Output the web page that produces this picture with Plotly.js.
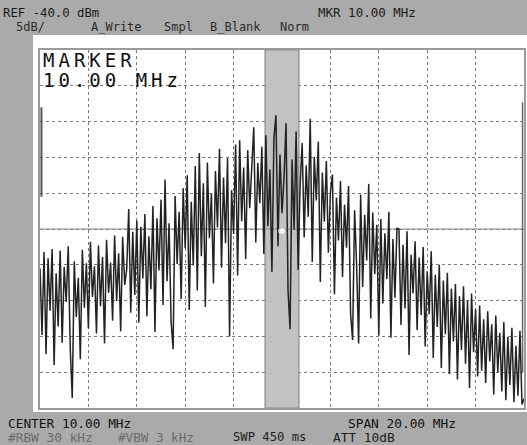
<!DOCTYPE html>
<html>
<head>
<meta charset="utf-8">
<script src="https://cdn.plot.ly/plotly-3.0.1.min.js"></script>
<style>
  html, body { margin: 0; padding: 0; background: #aaaaaa; }
  #chart { width: 527px; height: 445px; }
  .annotation[data-index="0"] text, .annotation[data-index="1"] text { letter-spacing: 4px; }
</style>
</head>
<body>
<div id="chart"></div>
<script>
// Frequency axis: start (MHz) and step between trace points
const freqStart = 0;
const freqStep = 20 / 240;

// Trace amplitude values (dBm), read from the display, left to right
const traceDbm = [
  -70.5, -79.8, -68.2, -82.5, -69.1, -76.4, -67.8, -84.0, -71.2, -78.6,
  -68.0, -80.9, -70.3, -75.2, -67.4, -81.7, -88.6, -69.5, -77.3, -71.8,
  -83.2, -67.9, -76.0, -69.8, -78.9, -66.8, -74.5, -70.2, -79.6, -67.3,
  -75.8, -68.9, -81.0, -66.5, -73.9, -69.7, -77.8, -65.9, -75.1, -68.4,
  -79.3, -66.1, -72.8, -70.6, -62.2, -76.7, -65.4, -74.2, -63.8, -78.1,
  -64.7, -71.9, -62.9, -77.2, -66.0, -73.4, -61.8, -79.4, -63.5, -70.8,
  -60.9, -75.6, -58.1, -72.3, -64.2, -77.9, -81.8, -60.4, -69.9, -62.6,
  -74.8, -59.3, -67.7, -57.5, -76.3, -61.2, -70.1, -56.2, -73.6, -54.4,
  -68.8, -58.6, -75.9, -55.7, -66.3, -60.0, -72.6, -56.9, -64.8, -53.8,
  -70.4, -57.8, -67.0, -55.1, -80.0, -59.6, -65.7, -53.2, -71.5, -52.6,
  -63.9, -56.4, -69.2, -54.0, -62.1, -57.3, -50.8, -66.9, -55.8, -61.4,
  -53.5, -68.5, -51.9, -64.6, -56.7, -71.0, -52.3, -49.1, -67.4, -54.6,
  -62.8, -57.9, -50.2, -73.7, -79.0, -55.3, -65.1, -51.4, -70.7, -58.8,
  -53.0, -66.2, -56.1, -63.3, -49.6, -69.6, -54.9, -61.0, -52.8, -72.4,
  -57.1, -64.0, -55.5, -68.3, -59.9, -57.4, -74.1, -60.6, -66.6, -58.3,
  -71.7, -61.6, -67.6, -59.0, -76.8, -80.5, -62.4, -70.0, -81.0, -60.2,
  -73.1, -63.0, -69.4, -58.7, -77.5, -62.7, -71.3, -64.4, -79.9, -63.6,
  -75.4, -65.6, -72.0, -62.6, -80.2, -66.4, -74.6, -64.9, -65.0, -78.4,
  -67.2, -76.1, -65.3, -82.6, -68.6, -74.0, -66.7, -79.1, -69.0, -77.0,
  -67.5, -81.4, -70.9, -76.9, -68.1, -83.0, -71.4, -78.7, -70.0, -84.4,
  -72.2, -79.7, -71.1, -85.3, -73.3, -80.7, -72.7, -86.0, -74.4, -81.9,
  -73.0, -83.8, -75.0, -87.2, -74.0, -82.2, -76.2, -85.6, -75.7, -84.8,
  -77.6, -86.5, -76.5, -83.5, -78.3, -88.1, -77.1, -85.0, -79.5, -87.7,
  -78.0, -88.9, -80.1, -86.8, -78.8, -89.2, -81.3, -88.3, -79.2, -89.5,
  -88.7
];

// Marker
const markerFreq = [10.0];
const markerDbm = [-65.3];

// Display settings
const refLevel = -40;
const dbPerDiv = 5;
const numDiv = 10;
const centerFreq = 10;
const span = 20;
const bandLow = 9.3;
const bandHigh = 10.7;

// Status texts
const topLine1 = ["REF -40.0 dBm", "MKR 10.00 MHz"];
const topLine2 = ["5dB/", "A_Write", "Smpl", "B_Blank", "Norm"];
const bottomLine1 = ["CENTER 10.00 MHz", "SPAN 20.00 MHz"];
const bottomLine2 = ["#RBW 30 kHz", "#VBW 3 kHz", "SWP 450 ms", "ATT 10dB"];
const markerText = ["MARKER", "10.00 MHz"];

const bottom = refLevel - dbPerDiv * numDiv;

const traces = [
  {
    type: 'scatter', mode: 'lines',
    x0: freqStart, dx: freqStep, y: traceDbm,
    line: { color: '#222222', width: 1.5 },
    hoverinfo: 'skip', showlegend: false
  },
  {
    type: 'scatter', mode: 'markers',
    x: markerFreq, y: markerDbm,
    marker: { color: '#f2f2f2', size: 7, line: { color: '#bbbbbb', width: 1 } },
    hoverinfo: 'skip', showlegend: false
  }
];

const mono = 'DejaVu Sans Mono, monospace';
function ann(text, px, py, size, color, anchor) {
  return {
    xref: 'paper', yref: 'paper',
    x: (px - 40) / 484, y: (408 - py) / 358,
    xanchor: anchor || 'left', yanchor: 'middle',
    text: text, showarrow: false,
    font: { family: mono, size: size, color: color }
  };
}

const annotations = [
  ann(markerText[0], 53, 60, 19, '#111111'),
  ann(markerText[1], 59, 80, 19, '#111111'),
  ann(topLine1[0], 1, 13, 12.3, '#1a1a1a'),
  ann(topLine1[1], 316, 13, 12.5, '#1a1a1a'),
  ann(topLine2[0], 14, 27, 12, '#2a2a2a'),
  ann(topLine2[1], 89, 27, 12, '#2a2a2a'),
  ann(topLine2[2], 162, 27, 12, '#2a2a2a'),
  ann(topLine2[3], 208, 27, 12, '#2a2a2a'),
  ann(topLine2[4], 278, 27, 12, '#2a2a2a'),
  ann(bottomLine1[0], 6, 423, 12.8, '#111111'),
  ann(bottomLine1[1], 346, 423, 12.8, '#111111'),
  ann(bottomLine2[0], 6, 437, 12.8, '#6a6a6a'),
  ann(bottomLine2[1], 116, 437, 12.6, '#6a6a6a'),
  ann(bottomLine2[2], 231, 437, 12.2, '#1e1e1e'),
  ann(bottomLine2[3], 331, 437, 12.8, '#1e1e1e')
];

const shapes = [
  // white display area
  { type: 'rect', xref: 'paper', yref: 'paper', layer: 'below',
    x0: (33 - 40) / 484, x1: (528 - 40) / 484, y0: (408 - 412) / 358, y1: (408 - 35) / 358,
    fillcolor: '#ffffff', line: { width: 0 } },
  // shaded marker band
  { type: 'rect', xref: 'x', yref: 'y', layer: 'between',
    x0: bandLow, x1: bandHigh, y0: bottom, y1: refLevel,
    fillcolor: '#c2c2c2', line: { color: '#8a8a8a', width: 1.2 } },
  // centre display line
  { type: 'line', xref: 'x', yref: 'y', layer: 'between',
    x0: 0, x1: span, y0: refLevel - dbPerDiv * numDiv / 2, y1: refLevel - dbPerDiv * numDiv / 2,
    line: { color: '#8a8a8a', width: 1.2 } },
  // edge marks
  { type: 'line', xref: 'paper', yref: 'y', layer: 'above',
    x0: 0.003, x1: 0.003, y0: -48.0, y1: -60.5, line: { color: '#555555', width: 2 } },
  { type: 'line', xref: 'paper', yref: 'y', layer: 'above',
    x0: 0.997, x1: 0.997, y0: -47.3, y1: -85.0, line: { color: '#666666', width: 1.5 } }
];

const axisCommon = {
  showgrid: true, gridcolor: '#7a7a7a', gridwidth: 1, griddash: '3px,3px',
  zeroline: false, showticklabels: false, ticks: '',
  showline: true, mirror: true, linecolor: '#9a9a9a', linewidth: 2,
  fixedrange: true
};

const layout = {
  width: 527, height: 445,
  margin: { l: 40, r: 3, t: 50, b: 37, pad: 0 },
  paper_bgcolor: '#aaaaaa',
  plot_bgcolor: 'rgba(0,0,0,0)',
  showlegend: false,
  xaxis: Object.assign({}, axisCommon, { range: [centerFreq - span / 2, centerFreq + span / 2], dtick: span / numDiv, tick0: 0 }),
  yaxis: Object.assign({}, axisCommon, { range: [bottom, refLevel], dtick: dbPerDiv, tick0: bottom }),
  shapes: shapes,
  annotations: annotations
};

Plotly.newPlot('chart', traces, layout, { staticPlot: true, displayModeBar: false });
</script>
</body>
</html>
